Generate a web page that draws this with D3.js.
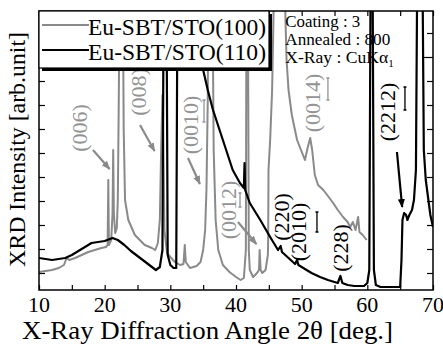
<!DOCTYPE html>
<html>
<head>
<meta charset="utf-8">
<script src="https://cdn.jsdelivr.net/npm/d3@7"></script>
<style>
  body { margin: 0; background: #fff; }
</style>
</head>
<body>
<svg id="chart"></svg>
<script>
// XRD scans, [2theta (deg), intensity (arb.)]; 300 = runs off the top
var sto100 = [[10.0,1],[11,2],[12,3],[13,5],[13.8,8],[14.2,15],[14.6,13],[15.5,15],[16.5,18],[17.5,21],[18.5,23],[19.5,25],[20.2,26],[20.45,28],[20.55,93],[20.65,28],[21.0,33],[21.2,60],[21.3,123],[21.4,60],[21.6,40],[21.85,45],[22.0,73],[22.15,173],[22.3,300],[22.75,300],[22.9,143],[23.1,73],[23.6,53],[24.6,38],[26.1,28],[27.2,25],[27.7,23],[28.1,30],[28.4,53],[28.6,123],[28.8,178],[28.95,123],[29.1,43],[29.5,20],[30.0,16],[30.7,11],[31.5,8],[32.0,9],[32.2,28],[32.35,11],[33.0,5],[34.0,7],[34.6,11],[35.0,23],[35.3,43],[35.5,83],[35.7,173],[35.8,300],[36.4,300],[36.6,123],[36.9,53],[37.3,23],[38.0,8],[39.0,1],[40.0,-4],[40.7,-7],[41.2,-5],[41.5,23],[41.6,300],[41.8,300],[41.95,23],[42.1,3],[42.6,-4],[43.2,0],[43.5,3],[43.6,23],[43.75,3],[44.0,0],[44.5,3],[44.85,18],[44.9,33],[44.95,103],[45.2,133],[45.5,183],[45.7,253],[45.8,300],[47.3,300],[47.5,263],[47.7,213],[48.0,183],[48.5,158],[49.3,133],[50.2,118],[50.5,113],[50.9,125],[51.3,135],[51.6,123],[52.0,98],[52.5,88],[53.3,83],[54.0,77],[54.8,70],[55.5,63],[56.3,56],[57.0,51],[57.4,46],[57.8,51],[58.2,43],[58.6,56],[58.8,41],[59.3,38],[59.9,33]];

var sto110 = [[10,15],[11,14],[12,13],[13,14],[14,15],[15,18],[16,22],[17,26],[18,30],[19,31],[20,32],[21.2,35],[22,33],[23,28],[24,22],[25,17],[26,12],[27,7],[27.8,3],[28.4,6],[28.8,23],[29.0,300],[29.4,300],[29.6,18],[30.0,8],[30.5,5],[30.9,5],[31.1,300],[34.6,300],[35.0,203],[35.7,183],[36.5,163],[38.0,133],[39.5,103],[40.6,90],[41.2,85],[41.3,110],[41.4,83],[42.1,70],[43.7,53],[45.2,36],[46.4,23],[46.8,27],[47.0,21],[48.0,15],[49.0,9],[49.3,13],[49.5,8],[50.5,4],[51.5,0],[52.8,-4],[54,-7],[55.5,-10],[55.9,-3],[56.2,-10],[57,-12],[58,-13],[59.5,-13],[60.0,-10],[60.3,3],[60.5,300],[60.8,300],[61.0,3],[61.3,-12],[62,-14],[63,-14],[64,-14],[65.0,-14],[65.2,13],[65.35,53],[65.6,60],[65.9,58],[66.1,53],[66.4,58],[66.8,63],[67.1,73],[67.4,103],[67.6,300],[68.4,300],[68.6,123],[68.9,93],[69.2,78],[69.6,58],[70.0,46]];

var seriesNames = ["Eu-SBT/STO(100)", "Eu-SBT/STO(110)"];
var xTicks = [10, 20, 30, 40, 50, 60, 70];
var xMinorTicks = [15, 25, 35, 45, 55, 65];
var yTicks = [0, 24, 48, 72, 96, 120, 144, 168, 192, 216, 240];
var infoLines = ["Coating : 3", "Annealed : 800", "X-Ray : CuK\u03b1"];

// peak labels: [text, angle, intensity, series]
var peakLabels = [
  ["(006)", 16.24, 145, 0], ["(008)", 25.08, 181, 0], ["(0010)", 33.0, 148, 0],
  ["(0012)", 38.93, 63, 0], ["(0014)", 51.72, 170, 0],
  ["(220)", 47.0, 56, 1], ["(2010)", 49.59, 41, 1], ["(228)", 55.84, 25, 1], ["(2212)", 63.14, 161, 1]
];
// underlines of two-digit indices: [angle, intensity from, intensity to, series]
var underlines = [[35.13, 151, 173, 0], [40.61, 66, 80, 0], [54.0, 173, 195, 0], [52.33, 41, 61, 1], [65.73, 163, 186, 1]];
// arrows: [angle from, int from, angle to, int to, series]
var arrows = [
  [18.22, 123, 20.75, 104, 0], [25.38, 148, 27.6, 122, 0], [32.69, 115, 34.5, 89, 0],
  [40.3, 51, 43.1, 29, 0], [64.51, 121, 65.3, 66, 1]
];

var colors = ["#8a8a8a", "#000"];
var serif = "Liberation Serif";

var W = 443, H = 344;
var margin = { top: 11, right: 10, bottom: 54, left: 39 };
var width = W - margin.left - margin.right,
    height = H - margin.top - margin.bottom;

var svg = d3.select("#chart").attr("width", W).attr("height", H)
  .attr("font-family", serif);
var g = svg.append("g").attr("transform", "translate(" + margin.left + "," + margin.top + ")");

var x = d3.scaleLinear().domain([10, 70]).range([0, width]);
var y = d3.scaleLinear().domain([-17, 262]).range([height, 0]);

g.append("clipPath").attr("id", "clip")
  .append("rect").attr("width", width).attr("height", height);

var line = d3.line().x(function(d) { return x(d[0]); }).y(function(d) { return y(d[1]); });

var curves = g.append("g").attr("clip-path", "url(#clip)");
[sto100, sto110].forEach(function(s, i) {
  curves.append("path").datum(s)
    .attr("fill", "none")
    .attr("stroke", colors[i])
    .attr("stroke-width", i == 0 ? 2 : 2.2)
    .attr("stroke-linejoin", "round")
    .attr("d", line);
});

// axes, ticks inward on all four sides
g.append("g").attr("transform", "translate(0," + height + ")")
  .call(d3.axisBottom(x).tickValues(xTicks.concat(xMinorTicks)).tickSize(-5).tickFormat(""));
g.append("g")
  .call(d3.axisTop(x).tickValues(xTicks.concat(xMinorTicks)).tickSize(-5).tickFormat(""));
g.append("g")
  .call(d3.axisLeft(y).tickValues(yTicks).tickSize(-6).tickFormat(""));
g.append("g").attr("transform", "translate(" + width + ",0)")
  .call(d3.axisRight(y).tickValues(yTicks).tickSize(-6).tickFormat(""))
  .selectAll(".tick line").attr("x2", function(d) { return d == 216 ? -10 : -6; });
g.selectAll(".domain").remove();
g.selectAll(".tick line").attr("stroke", "#000").attr("stroke-width", 1.2);

g.append("rect").attr("width", width).attr("height", height)
  .attr("fill", "none").attr("stroke", "#000").attr("stroke-width", 1.5);

// tick labels
g.selectAll(".xlab").data(xTicks).enter().append("text")
  .attr("x", function(d) { return x(d); })
  .attr("y", height + 22)
  .attr("text-anchor", "middle")
  .attr("font-family", serif)
  .attr("font-size", 22)
  .text(function(d) { return d; });

// arrows
var defs = svg.append("defs");
colors.forEach(function(c, i) {
  defs.append("marker").attr("id", "ah" + i)
    .attr("viewBox", "0 0 10 10").attr("refX", 9).attr("refY", 5)
    .attr("markerWidth", 4).attr("markerHeight", 4).attr("orient", "auto")
    .attr("markerUnits", "strokeWidth")
    .append("path").attr("d", "M0,1 L10,5 L0,9 Z").attr("fill", c);
});
g.selectAll(".arrow").data(arrows).enter().append("line")
  .attr("x1", function(d) { return x(d[0]); }).attr("y1", function(d) { return y(d[1]); })
  .attr("x2", function(d) { return x(d[2]); }).attr("y2", function(d) { return y(d[3]); })
  .attr("stroke", function(d) { return colors[d[4]]; })
  .attr("stroke-width", 2.2)
  .attr("marker-end", function(d) { return "url(#ah" + d[4] + ")"; });

// peak labels (rotated)
g.selectAll(".plab").data(peakLabels).enter().append("text")
  .attr("transform", function(d) { return "translate(" + x(d[1]) + "," + y(d[2]) + ") rotate(-90)"; })
  .attr("text-anchor", "middle")
  .attr("dominant-baseline", "central")
  .attr("font-family", serif)
  .attr("font-size", 22)
  .attr("fill", function(d) { return d[3] == 0 ? "#939393" : "#000"; })
  .text(function(d) { return d[0]; });

g.selectAll(".ul").data(underlines).enter().append("path")
  .attr("d", function(d) {
    var xx = x(d[0]), y1 = y(d[1]), y2 = y(d[2]);
    return "M" + xx + "," + y1 + "V" + y2 + "M" + (xx - 1.5) + "," + y1 + "h3M" + (xx - 1.5) + "," + y2 + "h3";
  })
  .attr("stroke", function(d) { return d[3] == 0 ? "#939393" : "#000"; })
  .attr("stroke-width", 1.3)
  .attr("fill", "none");

// legend with drop shadow
var leg = g.append("g");
leg.append("rect").attr("x", 3).attr("y", 3).attr("width", 230).attr("height", 57).attr("fill", "#000");
leg.append("rect").attr("x", 0).attr("y", 0).attr("width", 230).attr("height", 57)
  .attr("fill", "#fff").attr("stroke", "#000").attr("stroke-width", 1.2);
seriesNames.forEach(function(name, i) {
  leg.append("line").attr("x1", 3).attr("x2", 50).attr("y1", 14 + i * 25).attr("y2", 14 + i * 25)
    .attr("stroke", colors[i]).attr("stroke-width", 2);
  leg.append("text").attr("x", 49).attr("y", 24 + i * 25)
    .attr("font-family", serif).attr("font-size", 23)
    .attr("textLength", 178).attr("lengthAdjust", "spacingAndGlyphs")
    .text(name);
});

// run info
var infoWidths = [75, 105, 103];
var info = g.append("g").attr("transform", "translate(" + (x(47.5)) + ",0)");
infoLines.forEach(function(t, i) {
  var tx = info.append("text").attr("x", 0).attr("y", 16 + i * 18)
    .attr("font-family", serif).attr("font-size", 17);
  tx.append("tspan").attr("textLength", infoWidths[i]).attr("lengthAdjust", "spacingAndGlyphs").text(t);
  if (i == 2) tx.append("tspan").attr("font-size", 11).attr("dy", 4).text("1");
});

// axis titles
svg.append("text")
  .attr("x", 207.5).attr("y", H - 5)
  .attr("text-anchor", "middle").attr("font-size", 25)
  .attr("font-family", serif)
  .attr("textLength", 371).attr("lengthAdjust", "spacingAndGlyphs")
  .text("X-Ray Diffraction Angle 2\u03b8 [deg.]");
svg.append("text")
  .attr("transform", "translate(25,149.5) rotate(-90)")
  .attr("text-anchor", "middle").attr("font-size", 23)
  .attr("font-family", serif)
  .attr("textLength", 235).attr("lengthAdjust", "spacingAndGlyphs")
  .text("XRD Intensity [arb.unit]");
</script>
</body>
</html>
